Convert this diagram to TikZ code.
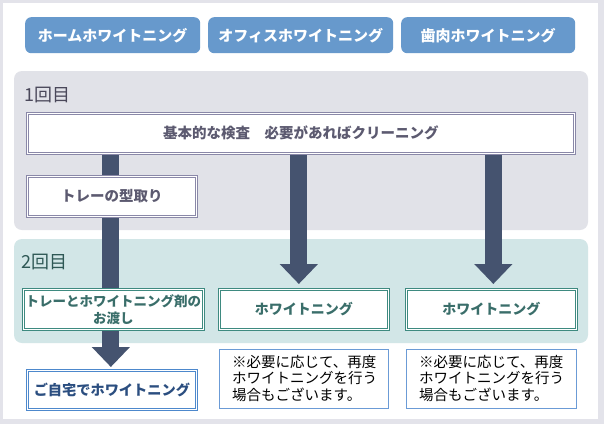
\documentclass[tikz,border=0pt]{standalone}
\usepackage{fontspec}
\setmainfont{Noto Sans CJK JP}
\usetikzlibrary{positioning,arrows.meta,backgrounds}
\definecolor{framegray}{HTML}{E3E3EA}
\definecolor{btnblue}{HTML}{6799CC}
\definecolor{roundone}{HTML}{E1E2E8}
\definecolor{roundtwo}{HTML}{D2E6E7}
\definecolor{arrowslate}{HTML}{45536F}
\definecolor{lilac}{HTML}{8A88A8}
\definecolor{lilactext}{HTML}{5C5A70}
\definecolor{tealline}{HTML}{3E8A80}
\definecolor{tealtext}{HTML}{3A6E6A}
\definecolor{homeblue}{HTML}{4D88CC}
\definecolor{hometext}{HTML}{2B4E80}
\definecolor{noteblue}{HTML}{6B9BD6}

\begin{document}
\begin{tikzpicture}[x=1pt, y=-1pt,
  btn/.style={fill=btnblue, rounded corners=6pt, text=white, anchor=north west,
              minimum height=36pt, inner sep=0pt,
              font=\bfseries\fontsize{15}{17}\selectfont},
  stepbox/.style={draw=lilac, double=white, double distance=1.4pt, line width=0.7pt,
              fill=white, anchor=north west, inner sep=0pt, text=lilactext,
              font=\bfseries\fontsize{14.5}{16}\selectfont},
  tealbox/.style={draw=tealline, double=white, double distance=1.4pt, line width=0.7pt,
              fill=white, anchor=north west, inner sep=0pt, text=tealtext, align=center,
              minimum height=40pt, font=\bfseries\fontsize{14}{16}\selectfont},
  homebox/.style={draw=homeblue, double=white, double distance=1.4pt, line width=0.7pt,
              fill=white, anchor=north west, inner sep=0pt, text=hometext,
              font=\bfseries\fontsize{14.2}{16}\selectfont},
  notebox/.style={draw=noteblue, line width=0.8pt, fill=white, anchor=north west,
              minimum width=169pt, minimum height=59pt, inner sep=0pt},
  notetext/.style={anchor=north west, align=left, inner sep=0pt,
              font=\fontsize{14.5}{16.5}\selectfont},
  roundlabel/.style={anchor=west, inner sep=0pt, font=\fontsize{18}{20}\selectfont},
  bigarrow/.style={arrowslate, line width=17pt,
              -{Triangle[width=37pt, length=20pt]}},
]
\useasboundingbox (0,0) rectangle (604,424);

% frame and the two rounds
\begin{scope}[on background layer]
  \fill[framegray] (0,0) rectangle (604,424);
  \fill[white] (3,3) rectangle (598,419);
  \fill[roundone, rounded corners=8pt] (14,71) rectangle (588,230);
  \fill[roundtwo, rounded corners=8pt] (14,239) rectangle (588,343);
\end{scope}

% menu buttons
\node[btn, minimum width=175pt] (home) at (25,17) {ホームホワイトニング};
\node[btn, minimum width=185pt] (office) at (208,17) {オフィスホワイトニング};
\node[btn, minimum width=174pt] (gum) at (401,17) {歯肉ホワイトニング};

\node[roundlabel, text=lilactext!80!black] (first) at (24,95) {1回目};
\node[roundlabel, text=tealtext!80!black] (second) at (21,262) {2回目};

% 1st visit
\node[stepbox, minimum width=547pt, minimum height=40pt] (check) at (27,113)
  {基本的な検査\quad 必要があればクリーニング};
\node[stepbox, minimum width=169pt, minimum height=40pt] (tray) at (27,176)
  {トレーの型取り};

% 2nd visit
\node[tealbox, minimum width=180pt, font=\bfseries\fontsize{13.5}{17}\selectfont] (handover) at (23,289)
  {トレーとホワイトニング剤の\\お渡し};
\node[tealbox, minimum width=169pt] (officewt) at (219,289) {ホワイトニング};
\node[tealbox, minimum width=170pt] (gumwt) at (406,289) {ホワイトニング};

% after
\node[homebox, minimum width=169pt, minimum height=39pt] (athome) at (27,370)
  {ご自宅でホワイトニング};
\node[notebox] (noteoffice) at (219,349) {};
\node[notetext] (noteofficetxt) at (232,355)
  {※必要に応じて、再度\\ホワイトニングを行う\\場合もございます。};
\node[notebox, minimum width=170pt] (notegum) at (406,349) {};
\node[notetext] (notegumtxt) at (419,355)
  {※必要に応じて、再度\\ホワイトニングを行う\\場合もございます。};

\begin{scope}[on background layer]
  \draw[bigarrow, shorten >=3pt] ([xshift=-1pt]check.south -| tray.center) -- ([xshift=-1pt]athome.north);
  \draw[bigarrow, shorten >=5pt] ([xshift=-5pt]check.south -| officewt.center) -- ([xshift=-5pt]officewt.north);
  \draw[bigarrow, shorten >=5pt] ([xshift=2pt]check.south -| gumwt.center) -- ([xshift=2pt]gumwt.north);
\end{scope}
\end{tikzpicture}
\end{document}
